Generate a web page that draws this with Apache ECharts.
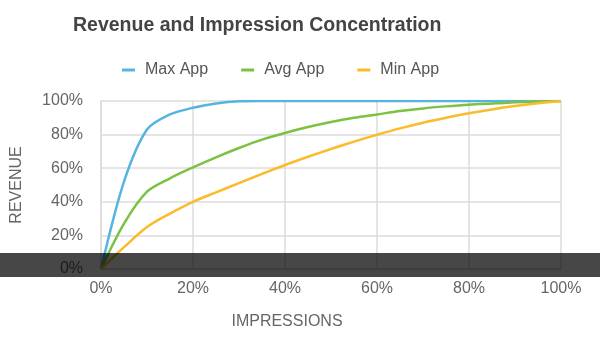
<!DOCTYPE html>
<html>
<head>
<meta charset="utf-8">
<script src="https://cdn.jsdelivr.net/npm/echarts@6/dist/echarts.min.js"></script>
<style>
  html, body { margin: 0; padding: 0; background: #fff; }
  #chart { width: 600px; height: 339px; }
</style>
</head>
<body>
<div id="chart"></div>
<script>
// Share of impressions (x, %) against cumulative share of revenue (y, %)
const impressions = [0, 5, 10, 15, 20, 25, 30, 35, 40, 45, 50, 55, 60, 65, 70, 75, 80, 85, 90, 95, 100];
const maxApp = [0, 52, 83, 92, 96, 98.5, 99.8, 100, 100, 100, 100, 100, 100, 100, 100, 100, 100, 100, 100, 100, 100];
const avgApp = [0, 27, 46, 54, 60.5, 66.5, 72, 77, 81, 84.5, 87.5, 90, 92, 94, 95.6, 96.8, 97.8, 98.5, 99.2, 99.7, 100];
const minApp = [0, 13, 25, 33, 40, 45.6, 51.1, 56.6, 61.9, 66.8, 71.4, 75.8, 79.9, 83.7, 87.1, 90, 92.7, 95, 97, 98.7, 100];
const seriesNames = ['Max App', 'Avg App', 'Min App'];
const axisTicks = [0, 20, 40, 60, 80, 100];

const colors = ['#56b4e0', '#7dc142', '#fbbb2b'];
const font = 'Liberation Sans, Helvetica, Arial, sans-serif';

function pairs(ys) {
  return impressions.map((x, i) => [x, ys[i]]);
}

const chart = echarts.init(document.getElementById('chart'), null, { renderer: 'canvas' });

const gridStyle = { color: '#dcdcdc', width: 1.5 };

chart.setOption({
  animation: false,
  color: colors,
  title: {
    text: 'Revenue and Impression Concentration',
    left: 68,
    top: 11,
    textStyle: { fontFamily: font, fontSize: 19.5, fontWeight: 'bold', color: '#444' }
  },
  legend: {
    data: seriesNames,
    left: 117,
    top: 57,
    icon: 'rect',
    itemWidth: 13,
    itemHeight: 3,
    itemGap: 33,
    textStyle: { fontFamily: font, fontSize: 16, color: '#555', padding: [0, 0, 0, 5] }
  },
  grid: { left: 101, right: 39, top: 101, bottom: 70, containLabel: false },
  xAxis: {
    type: 'value',
    min: axisTicks[0],
    max: axisTicks[axisTicks.length - 1],
    interval: axisTicks[1] - axisTicks[0],
    name: 'IMPRESSIONS',
    nameLocation: 'middle',
    nameGap: 45,
    nameTextStyle: { fontFamily: font, fontSize: 16, color: '#666', padding: [0, 88, 0, 0] },
    axisLine: { show: true, lineStyle: gridStyle },
    axisTick: { show: false },
    splitLine: { show: true, lineStyle: gridStyle },
    axisLabel: { formatter: '{value}%', fontFamily: font, fontSize: 16, color: '#666', margin: 12 }
  },
  yAxis: {
    type: 'value',
    min: axisTicks[0],
    max: axisTicks[axisTicks.length - 1],
    interval: axisTicks[1] - axisTicks[0],
    name: 'REVENUE',
    nameLocation: 'middle',
    nameGap: 76,
    nameTextStyle: { fontFamily: font, fontSize: 16, color: '#666' },
    axisLine: { show: true, lineStyle: gridStyle },
    axisTick: { show: false },
    splitLine: { show: true, lineStyle: gridStyle },
    axisLabel: { formatter: '{value}%', fontFamily: font, fontSize: 16, color: '#666', margin: 18 }
  },
  series: [
    { name: seriesNames[0], type: 'line', data: pairs(maxApp), smooth: 0.3, showSymbol: false, lineStyle: { width: 2.5 } },
    { name: seriesNames[1], type: 'line', data: pairs(avgApp), smooth: 0.3, showSymbol: false, lineStyle: { width: 2.5 } },
    { name: seriesNames[2], type: 'line', data: pairs(minApp), smooth: 0.3, showSymbol: false, lineStyle: { width: 2.5 } }
  ],
  graphic: [
    {
      type: 'rect',
      left: 0,
      top: 253,
      z: 100,
      shape: { width: 600, height: 24 },
      style: { fill: 'rgba(0,0,0,0.72)' },
      silent: true
    }
  ]
});
</script>
</body>
</html>
